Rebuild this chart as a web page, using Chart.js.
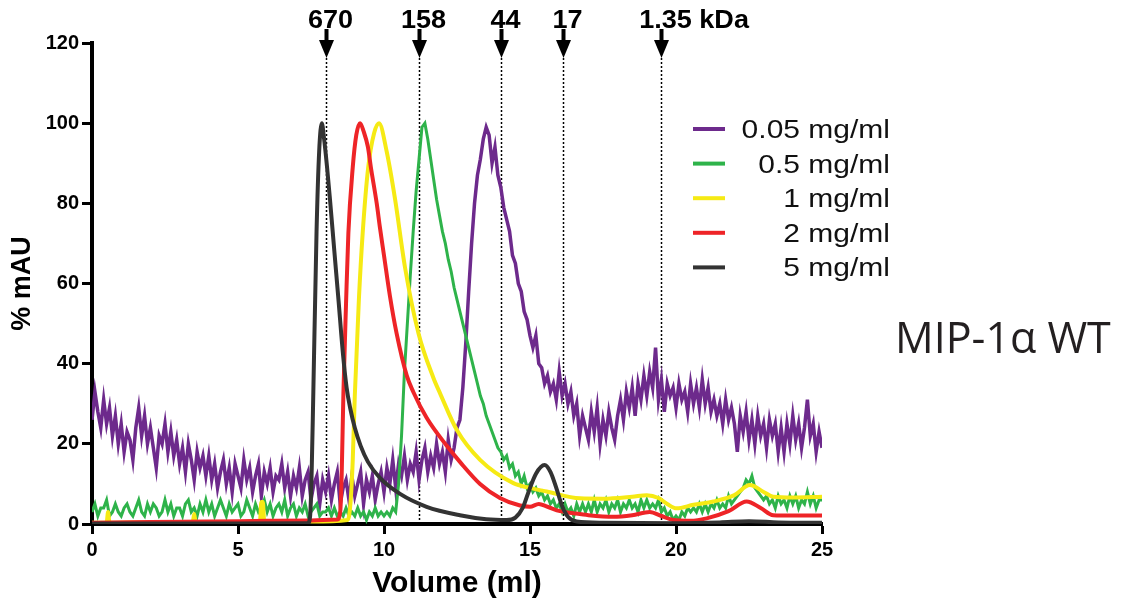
<!DOCTYPE html>
<html>
<head>
<meta charset="utf-8">
<title>MIP-1α WT size exclusion</title>
<script src="https://cdn.jsdelivr.net/npm/chart.js@4.4.0/dist/chart.umd.min.js"></script>
<style>
  body { margin: 0; background: #fff; }
  #wrap { width: 1126px; height: 608px; }
</style>
</head>
<body>
<div id="wrap"><canvas id="secChart" width="1126" height="608"></canvas></div>
<script>
// calibration standards: elution volume (ml) and mass label
var standardVolumes = [8.0, 11.2, 14.0, 16.12, 19.5];
var standardLabels = ['670', '158', '44', '17', '1.35'];

var seriesNames = ['0.05 mg/ml', '0.5 mg/ml', '1 mg/ml', '2 mg/ml', '5 mg/ml'];
var seriesColors = ['#6d2a8c', '#2eb34a', '#f6ea14', '#ee2427', '#333333'];

// the two dilute runs are noisy, read every 0.1 ml from 0 to 25 ml
var sampleStep = 0.1;

var abs005 = [
  26, 33, 28, 24, 31, 25, 29, 22, 27, 20,
  25, 18, 23, 21, 16, 24, 29, 22, 27, 20,
  24, 19, 14, 22, 20, 25, 18, 23, 17, 21,
  15, 19, 13, 20, 16, 11, 18, 14, 17, 12,
  17, 11, 15, 9, 13, 16, 10, 14, 8, 15,
  12, 9, 16, 11, 14, 8, 12, 15, 7, 13,
  10, 14, 8, 12, 11, 15, 9, 13, 7, 12,
  9, 14, 7, 11, 13, 6, 10, 12, 5, 11,
  8, 12, 6, 10, 13, 5, 9, 11, 6, 12,
  7, 10, 13, 5, 11, 8, 12, 6, 10, 13,
  8, 14, 10, 16, 9, 15, 12, 17, 11, 15,
  13, 18, 11, 16, 19, 13, 17, 14, 20, 15,
  18, 13, 21, 16, 19, 24, 26, 34, 45, 58,
  70, 80, 87, 91, 96, 99, 97, 90, 94, 87,
  84, 79, 76, 73, 67, 65, 60, 58, 53, 51,
  47, 44, 47, 40, 39, 35, 37, 33, 35, 31,
  38, 32, 35, 30, 33, 27, 30, 22, 27, 24,
  21, 28, 23, 29, 20, 26, 22, 28, 24, 21,
  27, 31, 26, 33, 29, 34, 27, 35, 31, 37,
  32, 38, 34, 44, 31, 36, 28, 35, 32, 34,
  29, 35, 31, 33, 28, 35, 30, 34, 29, 36,
  30, 34, 28, 31, 27, 30, 25, 31, 26, 29,
  25, 18, 27, 23, 28, 21, 26, 20, 27, 22,
  25, 19, 26, 22, 25, 18, 24, 18, 25, 20,
  27, 21, 25, 19, 24, 31, 22, 25, 18, 23,
  19
];

var abs05 = [
  3, 5, 2, 4, 4, 6, 2, 3, 5, 3,
  2, 4, 5, 3, 2, 4, 6, 3, 2, 5,
  3, 5, 4, 2, 3, 6, 3, 5, 2, 4,
  4, 2, 5, 6, 3, 4, 2, 5, 3, 6,
  3, 5, 2, 4, 6, 4, 2, 5, 3, 4,
  5, 2, 3, 6, 4, 2, 5, 3, 4, 6,
  3, 5, 2, 4, 5, 3, 6, 2, 4, 5,
  2, 4, 3, 5, 2, 3, 4, 5, 2, 3,
  3, 4, 2, 4, 2, 3, 2, 4, 2, 3,
  2, 4, 2, 3, 1, 3, 2, 4, 2, 3,
  2, 3, 2, 4, 3, 10, 22, 38, 50, 62,
  73, 83, 91, 99, 100, 96, 91, 86, 81, 77,
  73, 70, 66, 63, 59, 56, 53, 50, 47, 44,
  41, 38, 35, 32, 30, 27, 25, 23, 21, 19,
  18, 16, 17, 14, 15, 12, 13, 10, 12, 9,
  10, 8, 9, 7, 8, 6, 7, 5, 6, 4,
  5, 3, 5, 3, 4, 2, 5, 3, 5, 3,
  5, 3, 6, 3, 5, 4, 6, 3, 5, 4,
  6, 3, 5, 4, 6, 4, 5, 3, 6, 4,
  6, 4, 5, 4, 6, 3, 4, 2, 3, 1,
  2, 1, 3, 2, 4, 3, 4, 3, 5, 3,
  5, 3, 5, 4, 6, 4, 5, 4, 7, 5,
  6, 7, 8, 9, 11, 10, 12, 9, 8, 7,
  6, 7, 5, 6, 4, 7, 5, 6, 4, 7,
  5, 7, 4, 6, 5, 8, 5, 7, 4, 6,
  6
];

// concentrated runs are smooth, read at the turning points
var vol1 = [0, 0.5, 0.55, 0.6, 2.0, 3.45, 3.5, 3.55, 5.0, 5.75, 5.8, 5.85, 5.9, 7.5, 8.75, 8.85, 8.93, 9.0, 9.14, 9.27,
  9.46, 9.66, 9.83, 10.09, 10.38, 10.72, 11.18, 11.69, 11.92, 12.49, 13.29, 14.43, 15.0, 15.57, 16.71, 17.5, 18.5, 19.0, 19.4, 19.7,
  20.02, 20.6, 21.28, 22.0, 22.53, 23.0, 23.33, 24.0, 25.0];
var abs1 = [0.3, 0.3, 3, 0.3, 0.4, 0.4, 2.5, 0.4, 0.5, 0.5, 5.5, 5.5, 0.5, 0.6, 1, 5, 16, 32, 56, 72.6,
  89, 97.5, 100, 93, 81, 64, 47.6, 36.5, 32.6, 23.5, 16, 10.2, 9, 8.1, 6.4, 6.3, 6.8, 7.2, 6.5, 5,
  3.9, 4.8, 5.6, 7.2, 9.7, 8, 6.8, 6.6, 6.8];

var vol2 = [0, 2, 4, 6, 7.5, 8.4, 8.5, 8.55, 8.61, 8.7, 8.78, 8.93, 9.05, 9.18, 9.3, 9.45, 9.55, 9.75, 9.86, 10.0,
  10.2, 10.43, 10.78, 11.0, 11.46, 12.15, 12.6, 13.29, 13.97, 14.66, 15.0, 15.3, 15.6, 16.03, 16.48, 17.0, 17.85, 18.5, 19.1, 19.5,
  19.9, 20.5, 21.05, 21.8, 22.42, 22.9, 23.33, 24.0, 25.0];
var abs2 = [0.3, 0.5, 0.6, 0.8, 0.9, 1.1, 3, 12, 32.7, 55, 72.6, 89, 97, 100, 98, 94, 89, 80, 74, 67,
  57, 47.6, 37, 33, 26.5, 19.5, 15.5, 10, 6.5, 4.6, 4.3, 5, 4.3, 3.2, 2.7, 2.2, 1.8, 2.2, 3.0, 2.0,
  1.0, 0.8, 1.4, 3.2, 5.6, 4, 2.2, 2.1, 2.1];

var vol5 = [0, 5, 7.4, 7.47, 7.52, 7.58, 7.69, 7.78, 7.87, 7.95, 8.05, 8.15, 8.3, 8.44, 8.6, 8.72, 8.84, 9.0, 9.2, 9.45,
  9.86, 10.55, 11.46, 12.6, 13.5, 14.2, 14.5, 14.75, 14.95, 15.2, 15.5, 15.7, 15.9, 16.1, 16.3, 16.6, 17.5, 20.0, 21.5, 22.5,
  23.5, 25.0];
var abs5 = [0.1, 0.1, 0.2, 2, 12, 33, 73, 93, 100, 96, 89, 81, 68, 56, 42, 34, 29, 24, 19.5, 15.5,
  11.5, 7.5, 4.3, 2.2, 1.2, 1.0, 1.6, 4, 8, 12.5, 14.7, 13, 9, 4.5, 1.8, 0.6, 0.3, 0.2, 0.4, 0.7,
  0.4, 0.3];


function sampled(values) {
    return values.map((v, i) => ({x: Math.round(i * sampleStep * 10) / 10, y: v}));
}

function paired(vols, values) {
    return vols.map((v, i) => ({x: v, y: values[i]}));
}

var traces = [
    sampled(abs005),
    sampled(abs05),
    paired(vol1, abs1),
    paired(vol2, abs2),
    paired(vol5, abs5)
];

// purple at the back, black on top
var drawOrder = [5, 4, 3, 2, 1];
var lineWidths = [3.5, 3, 4, 4, 4];

var datasets = traces.map((pts, i) => ({
    label: seriesNames[i],
    data: pts,
    borderColor: seriesColors[i],
    backgroundColor: seriesColors[i],
    borderWidth: lineWidths[i],
    pointRadius: 0,
    tension: 0,
    cubicInterpolationMode: i < 2 ? 'default' : 'monotone',
    order: drawOrder[i]
}));


// draw text a little wider than the font, like the original artwork
function wideText(ctx, text, x, y, stretch) {
    ctx.save();
    ctx.translate(x, y);
    ctx.scale(stretch, 1);
    ctx.fillText(text, 0, 0);
    ctx.restore();
}

// dotted guide lines at the standards, arrows and labels on top
var standardsPlugin = {
    id: 'standards',
    beforeDatasetsDraw(chart) {
        var ctx = chart.ctx;
        var xs = chart.scales.x;
        ctx.save();
        ctx.strokeStyle = '#000';
        ctx.lineWidth = 1.5;
        ctx.setLineDash([2, 2]);
        standardVolumes.forEach((v) => {
            var px = Math.round(xs.getPixelForValue(v)) + 0.5;
            ctx.beginPath();
            ctx.moveTo(px, 58);
            ctx.lineTo(px, chart.chartArea.bottom);
            ctx.stroke();
        });
        ctx.restore();
    },
    afterDraw(chart) {
        var ctx = chart.ctx;
        var xs = chart.scales.x;
        ctx.save();
        ctx.fillStyle = '#000';
        ctx.font = 'bold 26px "Liberation Sans", Arial, sans-serif';
        ctx.textBaseline = 'alphabetic';
        ctx.textAlign = 'left';
        standardVolumes.forEach((v, i) => {
            var px = Math.round(xs.getPixelForValue(v)) + 0.5;
            ctx.fillRect(px - 2, 29, 4, 13);
            ctx.beginPath();
            ctx.moveTo(px - 7.5, 40);
            ctx.lineTo(px + 7.5, 40);
            ctx.lineTo(px, 58);
            ctx.closePath();
            ctx.fill();

            var label = standardLabels[i];
            var w = ctx.measureText(label).width * 1.04;
            var text = i === standardLabels.length - 1 ? label + ' kDa' : label;
            wideText(ctx, text, px + 4 - w / 2, 28, 1.04);
        });

        // legend, text right aligned
        ctx.font = '25px "Liberation Sans", Arial, sans-serif';
        ctx.textAlign = 'right';
        chart.data.datasets.forEach((ds, i) => {
            var y = 129 + i * 34.6;
            ctx.strokeStyle = ds.borderColor;
            ctx.lineWidth = 4;
            ctx.beginPath();
            ctx.moveTo(693, y);
            ctx.lineTo(725, y);
            ctx.stroke();
            ctx.fillStyle = '#111';
            wideText(ctx, ds.label, 890, y + 9, 1.2);
        });

        ctx.font = '43px "Open Sans", sans-serif';
        ctx.textAlign = 'left';
        ctx.fillStyle = '#231f20';
        ctx.fillText('MIP-1\u03b1 WT', 895, 353);
        ctx.restore();
    }
};


var ctx = document.getElementById('secChart').getContext('2d');

Chart.defaults.font.family = '"Liberation Sans", Arial, sans-serif';
Chart.defaults.color = '#000';

var secChart = new Chart(ctx, {
    type: 'line',
    data: { datasets: datasets },
    options: {
        responsive: false,
        animation: false,
        layout: {
            padding: { left: 0, top: 43, right: 304, bottom: 0 }
        },
        plugins: {
            legend: { display: false },
            tooltip: { enabled: false }
        },
        scales: {
            x: {
                type: 'linear',
                min: 0,
                max: 25,
                afterFit(scale) { scale.height = 84; },
                border: { display: true, width: 4, color: '#000' },
                grid: { drawOnChartArea: false, tickLength: 10, tickWidth: 3, tickColor: '#000' },
                ticks: {
                    stepSize: 5,
                    padding: 4,
                    font: { size: 20, weight: 'bold' }
                },
                title: {
                    display: true,
                    text: 'Volume (ml)',
                    padding: { top: 0, bottom: 6 },
                    font: { size: 30, weight: 'bold' }
                }
            },
            y: {
                min: 0,
                max: 120,
                afterFit(scale) { scale.width = 92; },
                border: { display: true, width: 4, color: '#000' },
                grid: { drawOnChartArea: false, tickLength: 10, tickWidth: 3, tickColor: '#000' },
                ticks: {
                    stepSize: 20,
                    padding: 3,
                    font: { size: 20, weight: 'bold' }
                },
                title: {
                    display: true,
                    text: '% mAU',
                    padding: { top: 6, bottom: 0 },
                    font: { size: 27, weight: 'bold' }
                }
            }
        }
    },
    plugins: [standardsPlugin]
});
</script>
</body>
</html>
